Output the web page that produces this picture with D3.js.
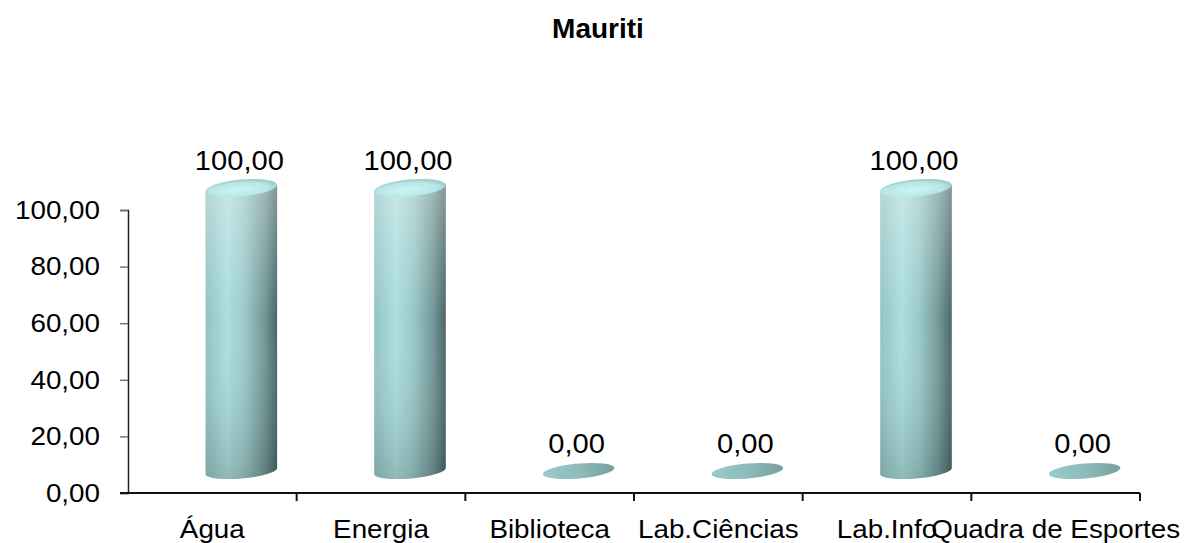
<!DOCTYPE html>
<html>
<head>
<meta charset="utf-8">
<script src="https://cdn.jsdelivr.net/npm/d3@7/dist/d3.min.js"></script>
<style>
  html, body { margin: 0; padding: 0; background: #fff; }
  svg { display: block; font-family: "Liberation Sans", Arial, sans-serif; }
</style>
</head>
<body>
<div id="chart"></div>
<script>
// Chart data
const title = "Mauriti";
const categories = ["Água", "Energia", "Biblioteca", "Lab.Ciências", "Lab.Info", "Quadra de Esportes"];
const values = [100, 100, 0, 0, 100, 0];
const yTicks = [0, 20, 40, 60, 80, 100];

const W = 1192, H = 543;
const margin = { left: 128, right: 52, top: 210, bottom: 50 };
const fmt = v => d3.format(".2f")(v).replace(".", ",");
const stretch = 1.07; // text is drawn slightly wide

const svg = d3.select("#chart").append("svg")
  .attr("width", W).attr("height", H);

const x = d3.scaleBand()
  .domain(categories)
  .range([margin.left, W - margin.right]);

const y = d3.scaleLinear()
  .domain([0, 100])
  .range([H - margin.bottom, margin.top]);

// Depth offset of the pseudo-3D plot floor
const depthX = 29, depthY = -22;
const rx = x.bandwidth() * 0.213;
const ry = 7.5;
const tilt = -5;

const defs = svg.append("defs");
// Side shading of the cylinders
const side = defs.append("linearGradient").attr("id", "side")
  .attr("x1", 0).attr("x2", 1).attr("y1", 0).attr("y2", 0);
[[0, "#93c3c3"], [0.3, "#acdede"], [0.55, "#9ac8c8"], [0.82, "#729898"], [1, "#4a6666"]]
  .forEach(([o, c]) => side.append("stop").attr("offset", o).attr("stop-color", c));
const shade = defs.append("linearGradient").attr("id", "shade")
  .attr("x1", 0).attr("x2", 0).attr("y1", 0).attr("y2", 1);
[[0, "#ffffff", 0.32], [0.45, "#ffffff", 0.0], [1, "#000000", 0.16]]
  .forEach(([o, c, a]) => shade.append("stop").attr("offset", o).attr("stop-color", c).attr("stop-opacity", a));
const cap = defs.append("radialGradient").attr("id", "cap")
  .attr("cx", 0.45).attr("cy", 0.6).attr("r", 0.6);
[[0, "#cdf5f5"], [0.7, "#b6e6e6"], [1, "#98c6c6"]]
  .forEach(([o, c]) => cap.append("stop").attr("offset", o).attr("stop-color", c));
const disc = defs.append("linearGradient").attr("id", "disc")
  .attr("x1", 0).attr("x2", 1).attr("y1", 0).attr("y2", 0);
[[0, "#9acaca"], [0.5, "#8ebbbb"], [1, "#779f9f"]]
  .forEach(([o, c]) => disc.append("stop").attr("offset", o).attr("stop-color", c));

// Places a text at (px, py) with the horizontal stretch
function placeText(sel, px, py, sx) {
  return sel.attr("x", 0).attr("y", 0)
    .attr("transform", `translate(${px},${py}) scale(${sx},1)`);
}

// Title
placeText(svg.append("text"), W / 2 + 2, 38, 1.0)
  .attr("text-anchor", "middle")
  .attr("font-weight", "bold").attr("font-size", 28)
  .text(title);

// Y axis
const yAxis = svg.append("g")
  .attr("transform", `translate(${margin.left},0)`)
  .call(d3.axisLeft(y).tickValues(yTicks).tickFormat(fmt).tickSize(8).tickPadding(20));
yAxis.select(".domain").attr("stroke", "#222").attr("stroke-width", 1.5);
yAxis.selectAll(".tick line").attr("stroke", "#777").attr("stroke-width", 1.5);
yAxis.selectAll(".tick text")
  .attr("font-size", 26).attr("fill", "#000")
  .attr("font-family", "'Liberation Sans', Arial, sans-serif")
  .attr("x", 0)
  .attr("transform", `translate(-28,0) scale(${stretch},1)`);

// X axis
const xAxisG = svg.append("g").attr("transform", `translate(0,${y(0)})`);
xAxisG.append("line")
  .attr("x1", margin.left - 8).attr("x2", W - margin.right)
  .attr("stroke", "#111").attr("stroke-width", 2);
const bounds = categories.map(c => x(c)).concat([x(categories[categories.length - 1]) + x.bandwidth()]);
xAxisG.selectAll(".xt").data(bounds.slice(1)).join("line")
  .attr("x1", d => d).attr("x2", d => d)
  .attr("y1", 0).attr("y2", 8)
  .attr("stroke", "#111").attr("stroke-width", 2);
xAxisG.selectAll(".xl").data(categories).join("text")
  .each(function (d) {
    placeText(d3.select(this), x(d) + x.bandwidth() / 2, 45, stretch);
  })
  .attr("text-anchor", "middle")
  .attr("font-size", 26)
  .text(d => d);

// Cylinders
const bars = svg.append("g");
categories.forEach((c, i) => {
  const v = values[i];
  const cx = x(c) + x.bandwidth() / 2 + depthX;
  const yb = y(0) + depthY;
  const yt = y(v) + depthY;
  const a = tilt * Math.PI / 180;
  const ex = rx * Math.cos(a), ey = rx * Math.sin(a);
  if (v > 0) {
    const p = `M${cx - ex},${yt - ey} L${cx - ex},${yb - ey} ` +
      `A${rx},${ry} ${tilt} 0 0 ${cx + ex},${yb + ey} L${cx + ex},${yt + ey} Z`;
    bars.append("path").attr("d", p).attr("fill", "url(#side)");
    bars.append("path").attr("d", p).attr("fill", "url(#shade)");
    bars.append("ellipse")
      .attr("cx", cx).attr("cy", yt).attr("rx", rx).attr("ry", ry + 1)
      .attr("transform", `rotate(${tilt},${cx},${yt})`)
      .attr("fill", "url(#cap)");
  } else {
    bars.append("ellipse")
      .attr("cx", cx).attr("cy", yb).attr("rx", rx).attr("ry", ry)
      .attr("transform", `rotate(${tilt},${cx},${yb})`)
      .attr("fill", "url(#disc)");
  }
  // Value label
  placeText(bars.append("text"), cx - 2, y(v) - 40, 1.04)
    .attr("text-anchor", "middle")
    .attr("font-size", 28)
    .text(fmt(v));
});
</script>
</body>
</html>
